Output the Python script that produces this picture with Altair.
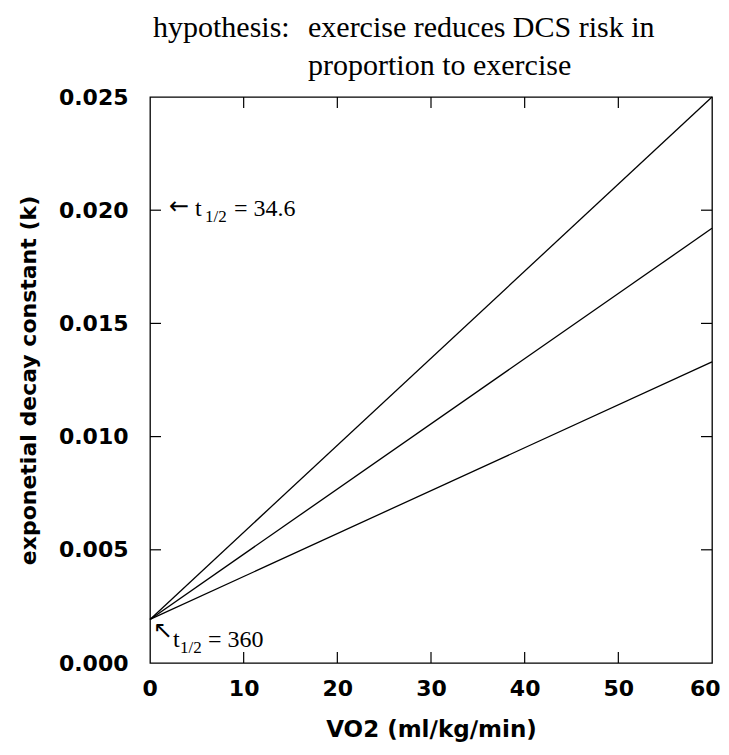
import altair as alt
import pandas as pd

# ---- data ----
vo2 = [0, 60]
k_high = [0.001925, 0.0250]
k_mid = [0.001925, 0.0192]
k_low = [0.001925, 0.0133]
series_names = ["high", "mid", "low"]

x_ticks = [0, 10, 20, 30, 40, 50, 60]
y_ticks = [0.000, 0.005, 0.010, 0.015, 0.020, 0.025]
x_inner_ticks = [10, 20, 30, 40, 50]
y_inner_ticks = [0.005, 0.010, 0.015, 0.020]

title_line1a = "hypothesis:"
title_line1b = "exercise reduces DCS risk in"
title_line2 = "proportion to exercise"

ann_top_k = 0.020      # t1/2 = 34.6  -> k = ln2/34.6
ann_bot_k = 0.001925   # t1/2 = 360   -> k = ln2/360
ann_top_val = "= 34.6"
ann_bot_val = "= 360"

W, H = 562, 566

rows = []
for name, ks in zip(series_names, [k_high, k_mid, k_low]):
    for xv, kv in zip(vo2, ks):
        rows.append({"vo2": xv, "k": kv, "series": name})
df = pd.DataFrame(rows)

xscale = alt.Scale(domain=[0, 60], nice=False, zero=False)
yscale = alt.Scale(domain=[0, 0.025], nice=False, zero=False)

lines = alt.Chart(df).mark_line(color="black", strokeWidth=1.3).encode(
    x=alt.X("vo2:Q", scale=xscale,
            axis=alt.Axis(values=x_ticks, format="d", title="VO2 (ml\u2215kg\u2215min)",
                          labelPadding=15, labelFlush=True, labelFlushOffset=8, titleY=66,
                          titleBaseline="middle", titleFontSize=23)),
    y=alt.Y("k:Q", scale=yscale,
            axis=alt.Axis(values=y_ticks, format=".3f", title="exponetial decay constant (k)",
                          labelPadding=22, labelFlush=False, titleX=-122, titleY=H / 2,
                          titleBaseline="middle", titleAlign="center", titleAngle=-90)),
    detail="series:N",
)

# inward tick marks on all four sides
xt = pd.DataFrame({"v": x_inner_ticks})
yt = pd.DataFrame({"v": y_inner_ticks})
tick_style = dict(color="black", strokeWidth=1.2)
bottom_ticks = alt.Chart(xt).mark_rule(**tick_style).encode(
    x=alt.X("v:Q", scale=xscale), y=alt.value(H), y2=alt.value(H - 11))
top_ticks = alt.Chart(xt).mark_rule(**tick_style).encode(
    x=alt.X("v:Q", scale=xscale), y=alt.value(0), y2=alt.value(11))
left_ticks = alt.Chart(yt).mark_rule(**tick_style).encode(
    y=alt.Y("v:Q", scale=yscale), x=alt.value(0), x2=alt.value(11))
right_ticks = alt.Chart(yt).mark_rule(**tick_style).encode(
    y=alt.Y("v:Q", scale=yscale), x=alt.value(W), x2=alt.value(W - 11))

# header text
serif = "Liberation Serif"
def header(txt, px, py):
    return alt.Chart(pd.DataFrame({"t": [txt]})).mark_text(
        font=serif, fontSize=30, align="left", baseline="alphabetic", color="black"
    ).encode(text="t:N", x=alt.value(px), y=alt.value(py))

h1 = header(title_line1a, 3, -60)
h2 = header(title_line1b, 158, -60)
h3 = header(title_line2, 158, -22)

# annotations anchored at data points
def ann(kval, txt, dx, dy, size, font=serif, align="left", baseline="alphabetic"):
    return alt.Chart(pd.DataFrame({"x": [0], "y": [kval], "t": [txt]})).mark_text(
        font=font, fontSize=size, align=align, baseline=baseline, dx=dx, dy=dy, color="black"
    ).encode(x=alt.X("x:Q", scale=xscale), y=alt.Y("y:Q", scale=yscale), text="t:N")

a_top = [
    ann(ann_top_k, "\u2190", 29, -3, 24, font="DejaVu Sans", align="center", baseline="middle"),
    ann(ann_top_k, "t", 45, 6, 24),
    ann(ann_top_k, "1/2", 55, 12, 17),
    ann(ann_top_k, ann_top_val, 84, 6, 24),
]
a_bot = [
    ann(ann_bot_k, "\u2196", 13, 12, 24, font="DejaVu Sans", align="center", baseline="middle"),
    ann(ann_bot_k, "t", 23, 28, 24),
    ann(ann_bot_k, "1/2", 30, 34, 17),
    ann(ann_bot_k, ann_bot_val, 58, 28, 24),
]

chart = alt.layer(
    lines, bottom_ticks, top_ticks, left_ticks, right_ticks, h1, h2, h3, *a_top, *a_bot
).properties(
    width=W, height=H,
    autosize=alt.AutoSizeParams(type="none"),
    padding={"left": 142, "top": 89, "right": 9, "bottom": 84},
).configure(
    background="white"
).configure_view(
    stroke="black", strokeWidth=1.3
).configure_axis(
    domain=False, ticks=False, grid=False,
    labelFont="DejaVu Sans", labelFontWeight="bold", labelFontSize=22, labelColor="black",
    titleFont="DejaVu Sans", titleFontWeight="bold", titleFontSize=22, titleColor="black",
)

chart.save("out.html", embed_options={"renderer": "svg", "actions": False})
